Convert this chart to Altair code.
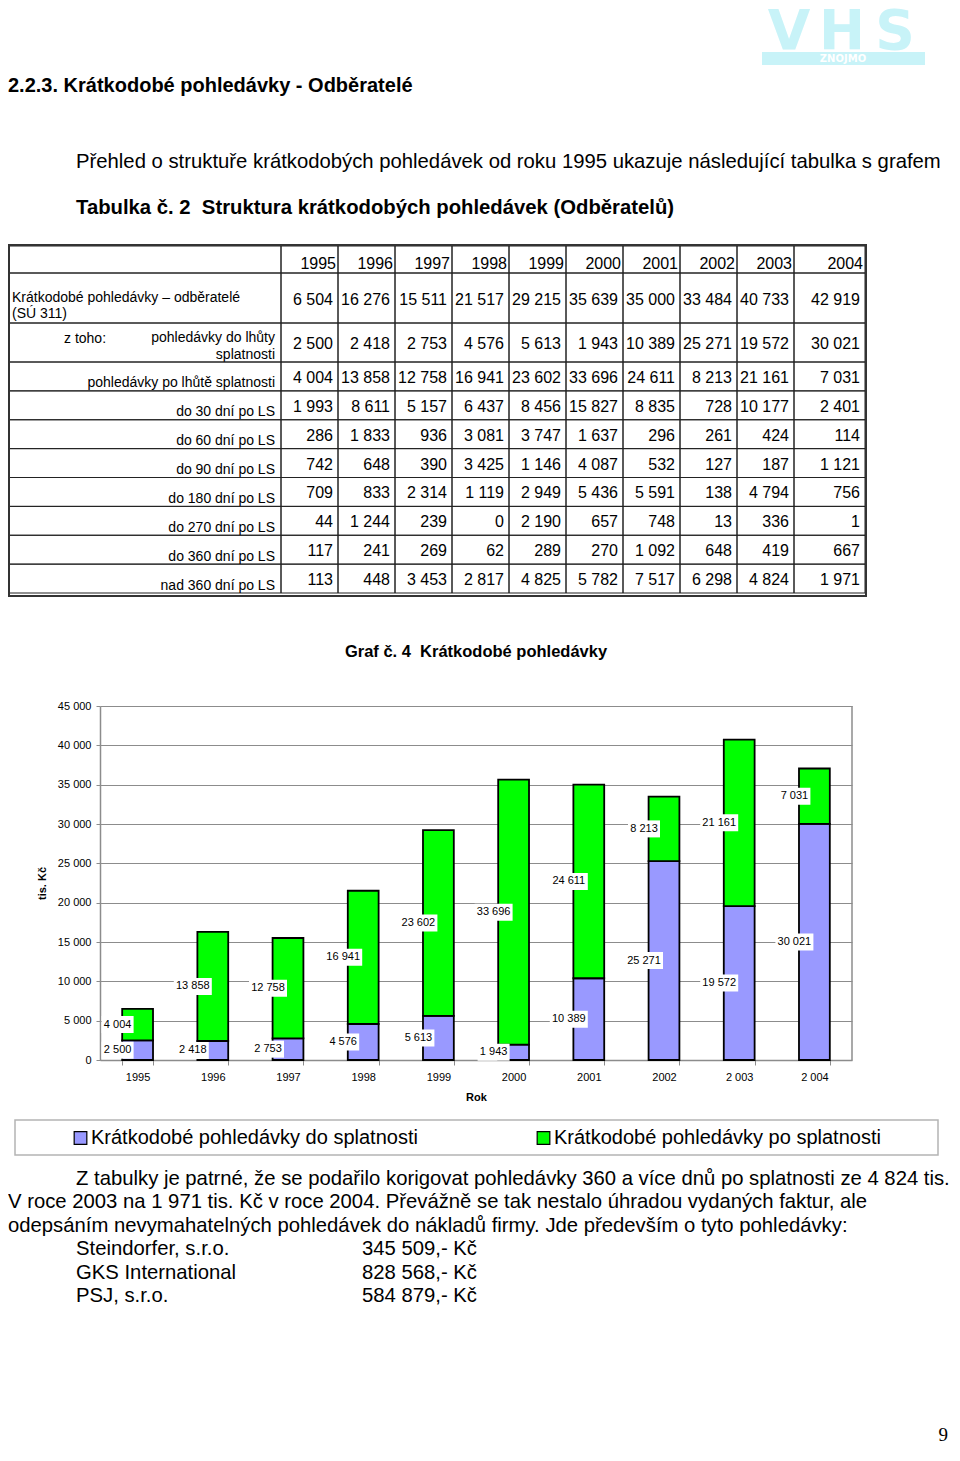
import altair as alt
import pandas as pd

FONT = "Liberation Sans"
W, H = 944, 1440

# ---------------- data ----------------
YEARS = ["1995", "1996", "1997", "1998", "1999", "2000", "2001", "2002", "2003", "2004"]
CHART_X_LABELS = ["1995", "1996", "1997", "1998", "1999", "2000", "2001", "2002", "2 003", "2 004"]
TOTAL = [6504, 16276, 15511, 21517, 29215, 35639, 35000, 33484, 40733, 42919]
DO_SPLAT = [2500, 2418, 2753, 4576, 5613, 1943, 10389, 25271, 19572, 30021]
PO_SPLAT = [4004, 13858, 12758, 16941, 23602, 33696, 24611, 8213, 21161, 7031]
D30 = [1993, 8611, 5157, 6437, 8456, 15827, 8835, 728, 10177, 2401]
D60 = [286, 1833, 936, 3081, 3747, 1637, 296, 261, 424, 114]
D90 = [742, 648, 390, 3425, 1146, 4087, 532, 127, 187, 1121]
D180 = [709, 833, 2314, 1119, 2949, 5436, 5591, 138, 4794, 756]
D270 = [44, 1244, 239, 0, 2190, 657, 748, 13, 336, 1]
D360 = [117, 241, 269, 62, 289, 270, 1092, 648, 419, 667]
NAD360 = [113, 448, 3453, 2817, 4825, 5782, 7517, 6298, 4824, 1971]

LBL_TOTAL = ["Krátkodobé pohledávky – odběratelé", "(SÚ 311)"]
LBL_ZTOHO = "z toho:"
LBL_DO = ["pohledávky do lhůty", "splatnosti"]
LBL_D = ["pohledávky po lhůtě splatnosti", "do 30 dní po LS", "do 60 dní po LS",
         "do 90 dní po LS", "do 180 dní po LS", "do 270 dní po LS",
         "do 360 dní po LS", "nad 360 dní po LS"]

SERIES = ["Krátkodobé pohledávky do splatnosti", "Krátkodobé pohledávky po splatnosti"]
COLORS = ["#9999FF", "#00FF00"]
Y_TICKS = [0, 5000, 10000, 15000, 20000, 25000, 30000, 35000, 40000, 45000]

LOGO_LETTERS = ["V", "H", "S"]
LOGO_SUB = "ZNOJMO"
HEADING = "2.2.3. Krátkodobé pohledávky - Odběratelé"
INTRO = "Přehled o struktuře krátkodobých pohledávek od roku 1995 ukazuje následující tabulka s grafem"
TABLE_TITLE = "Tabulka č. 2\u00a0 Struktura krátkodobých pohledávek (Odběratelů)"
CHART_TITLE = "Graf č. 4\u00a0 Krátkodobé pohledávky"
PARA = ["Z tabulky je patrné, že se podařilo korigovat pohledávky 360 a více dnů po splatnosti ze 4 824 tis.",
        "V roce 2003 na 1 971 tis. Kč v roce 2004. Převážně se tak nestalo úhradou vydaných faktur, ale",
        "odepsáním nevymahatelných pohledávek do nákladů firmy. Jde především o tyto pohledávky:"]
DEBTORS = ["Steindorfer, s.r.o.", "GKS International", "PSJ, s.r.o."]
AMOUNTS = ["345 509,- Kč", "828 568,- Kč", "584 879,- Kč"]
PAGE_NO = "9"

BODY = 20.3


def fmt(v):
    return f"{v:,}".replace(",", " ")


def txt(s, x, y, size=BODY, weight="normal", align="left", color="black", font=FONT, baseline="middle"):
    return alt.Chart(pd.DataFrame({"t": [s]})).mark_text(
        align=align, baseline=baseline, fontSize=size, fontWeight=weight, font=font, color=color
    ).encode(x=alt.value(x), y=alt.value(y), text="t:N")


layers = []

# ---------------- header ----------------
logo_c = "#c8f3f8"
layers.append(alt.Chart(pd.DataFrame({"a": [0]})).mark_rect(color=logo_c).encode(
    x=alt.value(754), x2=alt.value(917), y=alt.value(44), y2=alt.value(57)))
for i, ch in enumerate(LOGO_LETTERS):
    layers.append(txt(ch, 781 + i * 53, 41, size=55, weight="bold", align="center", color=logo_c,
                      font="DejaVu Sans", baseline="alphabetic"))
layers.append(txt(LOGO_SUB, 835, 51, size=10, weight="bold", align="center", color="white", font="DejaVu Sans"))
layers.append(txt(HEADING, 0, 78, size=20, weight="bold"))
layers.append(txt(INTRO, 68, 154))
layers.append(txt(TABLE_TITLE, 68, 200, weight="bold"))

# ---------------- table ----------------
LINE = "#222222"
X_LBL_END = 273
RANGE_A = [273, 786]
RANGE_B = [786, 857]


def values_df(keys, lists):
    recs = []
    for k, vals in zip(keys, lists):
        for y, v in zip(YEARS, vals):
            recs.append({"row": k, "year": y, "txt": fmt(v)})
    return pd.DataFrame(recs)


def group_chart(keys, top, bottom, vdf, val_dy, val_dx, label_layers):
    yscale = alt.Scale(type="band", domain=keys, range=[top, bottom], paddingInner=0, paddingOuter=0)

    def part(years, rng):
        sub = vdf[vdf["year"].isin(years)]
        xs = alt.Scale(type="band", domain=years, range=rng, paddingInner=0, paddingOuter=0)
        base = alt.Chart(sub)
        rect = base.mark_rect(fill="transparent", stroke=LINE, strokeWidth=1).encode(
            x=alt.X("year:N", scale=xs, axis=None),
            y=alt.Y("row:N", scale=yscale, axis=None))
        t = base.mark_text(align="right", baseline="middle", dx=val_dx, dy=val_dy, fontSize=16,
                           font=FONT, color="black").encode(
            x=alt.X("year:N", scale=xs, axis=None, bandPosition=1),
            y=alt.Y("row:N", scale=yscale, axis=None, bandPosition=0.5),
            text="txt:N")
        return alt.layer(rect, t)

    lab_rect = alt.Chart(pd.DataFrame({"row": keys})).mark_rect(
        fill="transparent", stroke=LINE, strokeWidth=1).encode(
        x=alt.value(0), x2=alt.value(X_LBL_END),
        y=alt.Y("row:N", scale=yscale, axis=None))
    labs = [lab_rect]
    for (df, x, align, dy) in label_layers:
        labs.append(alt.Chart(df).mark_text(align=align, baseline="middle", dy=dy, fontSize=14,
                                            font=FONT, color="black").encode(
            x=alt.value(x),
            y=alt.Y("row:N", scale=yscale, axis=None, bandPosition=0.5),
            text="t:N"))
    return alt.layer(part(YEARS[:9], RANGE_A), part(YEARS[9:], RANGE_B),
                     alt.layer(*labs)).resolve_scale(x="independent")


hdr_df = pd.DataFrame({"row": ["hdr"] * 10, "year": YEARS, "txt": YEARS})
layers.append(group_chart(["hdr"], 238, 265, hdr_df, 4.5, -2, []))

layers.append(group_chart(["r1"], 265, 315, values_df(["r1"], [TOTAL]), 2, -5, [
    (pd.DataFrame({"row": ["r1"], "t": [LBL_TOTAL[0]]}), 4, "left", 0),
    (pd.DataFrame({"row": ["r1"], "t": [LBL_TOTAL[1]]}), 4, "left", 16),
]))

layers.append(group_chart(["r2"], 315, 354, values_df(["r2"], [DO_SPLAT]), 1.5, -5, [
    (pd.DataFrame({"row": ["r2"], "t": [LBL_ZTOHO]}), 56, "left", -3.5),
    (pd.DataFrame({"row": ["r2"], "t": [LBL_DO[0]]}), 267, "right", -4.5),
    (pd.DataFrame({"row": ["r2"], "t": [LBL_DO[1]]}), 267, "right", 12.5),
]))

D_KEYS = ["r3", "d30", "d60", "d90", "d180", "d270", "d360", "nad"]
D_LISTS = [PO_SPLAT, D30, D60, D90, D180, D270, D360, NAD360]
layers.append(group_chart(D_KEYS, 354, 585, values_df(D_KEYS, D_LISTS), 1.5, -5, [
    (pd.DataFrame({"row": D_KEYS, "t": LBL_D}), 267, "right", 7),
]))

layers.append(alt.Chart(pd.DataFrame({"a": [0]})).mark_rect(
    fill="transparent", stroke="#333333", strokeWidth=2).encode(
    x=alt.value(1), x2=alt.value(858), y=alt.value(237), y2=alt.value(588)))

# ---------------- bar chart ----------------
PX0, PX1, PY0, PY1 = 92, 844, 1052, 698
layers.append(txt(CHART_TITLE, 468, 644, size=16.5, weight="bold", align="center"))

bar_recs, lab_recs = [], []
for xl, do, po in zip(CHART_X_LABELS, DO_SPLAT, PO_SPLAT):
    bar_recs.append({"yl": xl, "series": SERIES[0], "base": 0, "top": do})
    bar_recs.append({"yl": xl, "series": SERIES[1], "base": do, "top": do + po})
    for v, mid in ((do, do / 2), (po, do + po / 2)):
        s = fmt(v)
        lab_recs.append({"yl": xl, "mid": mid, "t": s, "w": "w" if len(s) > 5 else "n"})
bar_df = pd.DataFrame(bar_recs)
lab_df = pd.DataFrame(lab_recs)

GRAY = "#8c8c8c"
xs = alt.Scale(type="band", domain=CHART_X_LABELS, range=[PX0, PX1], paddingInner=0.59, paddingOuter=0.295)
ys = alt.Scale(type="linear", domain=[0, 45000], range=[PY0, PY1], nice=False, zero=True)

x_axis = alt.Axis(orient="bottom", offset=-(H - PY0), labelAngle=0, tickBand="extent", tickSize=5,
                  tickColor=GRAY, domainColor=GRAY, domainWidth=1.5, labelFontSize=11, labelFont=FONT,
                  labelColor="black", labelPadding=6, grid=False, title="Rok", titleFont=FONT,
                  titleFontSize=11, titleFontWeight="bold", titlePadding=9, titleColor="black")
y_axis = alt.Axis(orient="left", offset=-PX0, values=Y_TICKS,
                  labelExpr="replace(format(datum.value, ','), ',', ' ')",
                  grid=True, gridColor=GRAY, gridWidth=1, domainColor=GRAY, domainWidth=1.5,
                  tickColor=GRAY, tickSize=4, labelPadding=5, labelFontSize=11, labelFont=FONT,
                  labelColor="black", title="tis. Kč", titleFont=FONT, titleFontSize=11,
                  titleFontWeight="bold", titleColor="black", titleX=-58, titleBaseline="middle")

X_ENC = alt.X("yl:N", scale=xs, axis=x_axis, sort=CHART_X_LABELS)

bars = alt.Chart(bar_df).mark_bar(stroke="black", strokeWidth=1.8).encode(
    x=X_ENC,
    y=alt.Y("top:Q", scale=ys, axis=y_axis),
    y2="base:Q",
    color=alt.Color("series:N", scale=alt.Scale(domain=SERIES, range=COLORS), legend=None),
)
P_N = "M-36,-8.5H-4V8.5H-36Z"
P_W = "M-39,-8.5H-1V8.5H-39Z"
boxes = alt.Chart(lab_df).mark_point(filled=True, fill="white", opacity=1, strokeWidth=0, size=4).encode(
    x=X_ENC,
    y=alt.Y("mid:Q", scale=ys, axis=y_axis),
    shape=alt.Shape("w:N", scale=alt.Scale(domain=["n", "w"], range=[P_N, P_W]), legend=None),
)
blabels = alt.Chart(lab_df).mark_text(dx=-20, fontSize=11, font=FONT, color="black", baseline="middle").encode(
    x=X_ENC,
    y=alt.Y("mid:Q", scale=ys, axis=y_axis),
    text="t:N",
)
frame = alt.Chart(pd.DataFrame({"a": [0]})).mark_rule(color=GRAY, strokeWidth=1.5).encode(
    x=alt.value(PX1), y=alt.value(PY1), y2=alt.value(PY0))
layers.append(alt.layer(bars, boxes, blabels, frame))

# ---------------- legend ----------------
layers.append(alt.Chart(pd.DataFrame({"a": [0]})).mark_rect(
    fill="transparent", stroke="#b4b4b4", strokeWidth=1.5).encode(
    x=alt.value(7), x2=alt.value(930), y=alt.value(1112), y2=alt.value(1147)))
leg_df = pd.DataFrame({"s": SERIES})
lx = alt.Scale(type="point", domain=SERIES, range=[72.5, 535.5], padding=0)
leg_sq = alt.Chart(leg_df).mark_square(size=160, filled=True, opacity=1, stroke="black", strokeWidth=1.2).encode(
    x=alt.X("s:N", scale=lx, axis=None), y=alt.value(1130),
    color=alt.Color("s:N", scale=alt.Scale(domain=SERIES, range=COLORS), legend=None))
leg_tx = alt.Chart(leg_df).mark_text(align="left", baseline="middle", dx=10.5, fontSize=20, font=FONT,
                                     color="black").encode(
    x=alt.X("s:N", scale=lx, axis=None), y=alt.value(1130), text="s:N")
layers.append(alt.layer(leg_sq, leg_tx))

# ---------------- paragraph ----------------
layers.append(txt(PARA[0], 68, 1171))
layers.append(txt(PARA[1], 0, 1194))
layers.append(txt(PARA[2], 0, 1218))
for i, (d, a) in enumerate(zip(DEBTORS, AMOUNTS)):
    layers.append(txt(d, 68, 1241 + i * 23.5))
    layers.append(txt(a, 354, 1241 + i * 23.5))
layers.append(txt(PAGE_NO, 940, 1427, size=19, align="right", font="Liberation Serif"))

chart = alt.layer(*layers).resolve_scale(
    x="independent", y="independent", color="independent", shape="independent"
).properties(width=W, height=H, padding=0, autosize="none", background="white"
).configure_view(strokeWidth=0)

chart.save("out.html", embed_options={"renderer": "svg", "actions": False})
